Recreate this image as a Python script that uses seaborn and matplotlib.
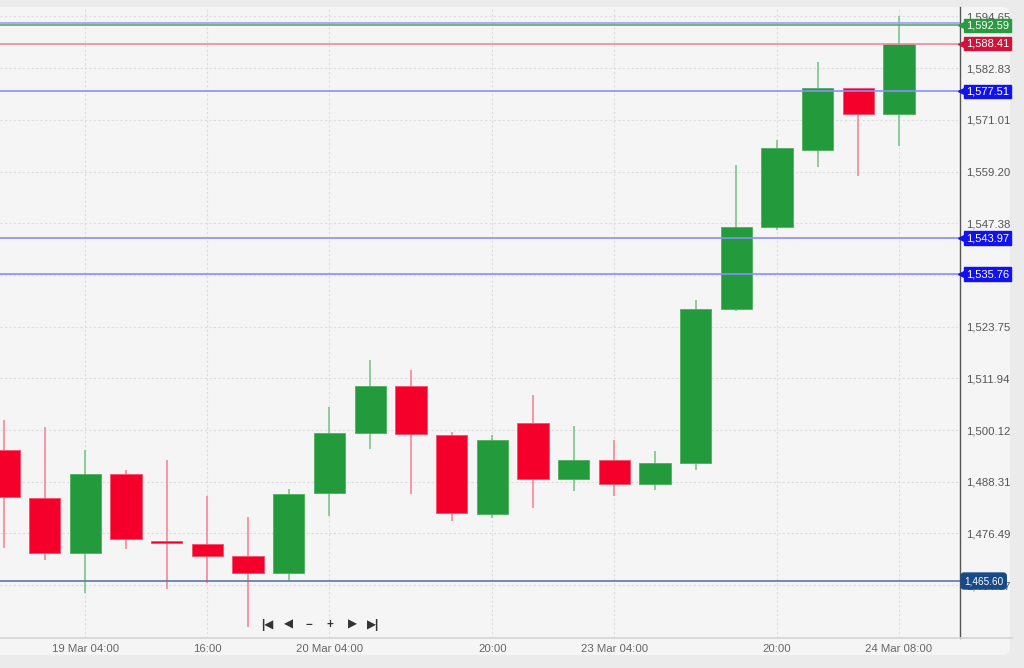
import matplotlib
matplotlib.use("Agg")
import matplotlib.pyplot as plt
import matplotlib.transforms as mtransforms
from matplotlib.patches import FancyBboxPatch
from matplotlib.lines import Line2D
import numpy as np
import pandas as pd
import seaborn as sns

# 4h candles, 18 Mar 20:00 .. 24 Mar 08:00
opens = [1495.55, 1484.58, 1472.01, 1490.06, 1474.75, 1474.06, 1471.32, 1467.43,
         1485.72, 1499.43, 1510.18, 1498.98, 1480.92, 1501.72, 1488.92, 1493.26,
         1487.78, 1492.58, 1527.78, 1546.52, 1564.12, 1578.29, 1572.35]
closes = [1484.81, 1472.01, 1490.06, 1475.21, 1474.29, 1471.32, 1467.43, 1485.49,
          1499.43, 1510.18, 1499.21, 1481.15, 1497.83, 1488.92, 1493.26, 1487.78,
          1492.58, 1527.78, 1546.52, 1564.57, 1578.29, 1572.35, 1588.41]
highs = [1502.41, 1500.81, 1495.55, 1490.98, 1493.26, 1485.03, 1480.23, 1486.63,
         1505.38, 1516.12, 1513.83, 1499.66, 1498.98, 1508.12, 1501.03, 1497.83,
         1495.32, 1529.83, 1560.69, 1566.40, 1584.23, 1578.29, 1594.75]
lows = [1473.15, 1470.41, 1462.86, 1472.92, 1463.78, 1465.15, 1455.09, 1465.61,
        1480.46, 1495.78, 1485.49, 1479.32, 1480.01, 1482.29, 1486.18, 1485.03,
        1486.41, 1490.98, 1527.32, 1545.83, 1560.23, 1558.18, 1565.03]

# x axis labels (candle index -> text)
xtick_idx = [2, 5, 8, 12, 15, 19, 22]
xtick_labels = ["19 Mar 04:00", "16:00", "20 Mar 04:00", "20:00",
                "23 Mar 04:00", "20:00", "24 Mar 08:00"]

# price scale ticks
ytick_vals = [1464.67, 1476.49, 1488.31, 1500.12, 1511.94, 1523.75, 1535.57,
              1547.38, 1559.20, 1571.01, 1582.83, 1594.65]

# horizontal levels
level_vals = [1593.15, 1592.59, 1588.41, 1577.51, 1543.97, 1535.76, 1465.60]
level_line_colors = ["#9a9aff", "#5aac6a", "#ec8b9c", "#8c8cff", "#8c8cff", "#8c8cff", "#5a7aaa"]
level_tag_colors = [None, "#2a9a40", "#d2123a", "#1212ee", "#1212ee", "#1212ee", "#174a87"]

df = pd.DataFrame({"open": opens, "close": closes, "high": highs, "low": lows})
df["idx"] = np.arange(len(df))
df["up"] = df["close"] >= df["open"]

sns.set_theme(style="white")
plt.rcParams["font.family"] = ["Liberation Sans", "DejaVu Sans"]

fig = plt.figure(figsize=(10.24, 6.68), dpi=100, facecolor="#ebebeb")

# rounded chart panel
panel = FancyBboxPatch((-10, 13), 1020, 648, boxstyle="round,pad=0,rounding_size=8",
                       fc="#f5f5f5", ec="none", transform=mtransforms.IdentityTransform(),
                       zorder=-10)
fig.patches.append(panel)

ax = fig.add_axes([0, 30 / 668, 960 / 1024, 631 / 668])
ax.set_facecolor("#f5f5f5")

green, red = "#239a3b", "#f5002a"
green_wick, red_wick = "#7cc68a", "#f5879a"

body_col = np.where(df["up"], green, red)
wick_col = np.where(df["up"], green_wick, red_wick)

ax.vlines(df["idx"], df["low"], df["high"], colors=wick_col, lw=1.2, zorder=2)
bottoms = df[["open", "close"]].min(axis=1)
heights = (df["close"] - df["open"]).abs().clip(lower=0.45)
ax.bar(df["idx"], heights, bottom=bottoms, width=0.77, color=body_col,
       edgecolor=np.where(df["up"], "#4fb060", "#f7506a"), lw=0.6, zorder=3)

# horizontal levels
for v, lc in zip(level_vals, level_line_colors):
    ax.axhline(v, color=lc, lw=1.2, zorder=4)

ax.set_xlim(-0.1, 23.5)
ax.set_ylim(1452.58, 1596.8)

ax.set_yticks(ytick_vals)
ax.set_yticklabels([f"{t:,.2f}" for t in ytick_vals])
ax.yaxis.tick_right()
ax.tick_params(axis="y", length=0, pad=4.5, labelsize=8.2, labelcolor="#555555")
ax.set_xticks(xtick_idx)
ax.set_xticklabels(xtick_labels)
ax.tick_params(axis="x", length=0, pad=4, labelsize=8.2, labelcolor="#666666")

ax.grid(True, color="#dddddd", linestyle=(0, (2, 2)), lw=0.8)
ax.set_axisbelow(True)
for s in ["top", "left", "bottom"]:
    ax.spines[s].set_visible(False)
ax.spines["right"].set_color("#555555")
ax.spines["right"].set_linewidth(1)

# bottom axis line extends to the panel edge
fig.lines.append(Line2D([0, 1012 / 1024], [30 / 668, 30 / 668], transform=fig.transFigure,
                        color="#d4d4d4", lw=1.2))

# price tags on the scale
ytr = ax.get_yaxis_transform()
for v, tc in zip(level_vals, level_tag_colors):
    if tc is None:
        continue
    if tc == "#174a87":
        ax.text(1.0 + 4 / 960, v, f"{v:,.2f}", transform=ytr, ha="left", va="center",
                fontsize=7.2, color="white", zorder=10, clip_on=False,
                bbox=dict(boxstyle="round,pad=0.3,rounding_size=0.3", fc=tc, ec=tc))
    else:
        ax.text(1.0 + 6 / 960, v, f"{v:,.2f}", transform=ytr, ha="left", va="center",
                fontsize=8, color="white", zorder=10, clip_on=False,
                bbox=dict(boxstyle="square,pad=0.15", fc=tc, ec=tc))
        ax.plot([1.0 + 3 / 960], [v], marker="<", ms=7, color=tc, mec=tc,
                transform=ytr, clip_on=False, zorder=9)

# navigation controls
nav = ["|◀", "◀", "−", "+", "▶", "▶|"]
nav_x = [267, 288, 309, 330, 352, 373]
for s, px in zip(nav, nav_x):
    ax.text(px / 960, 13 / 631, s, transform=ax.transAxes, ha="center", va="center",
            fontsize=8.5, color="#333333", fontweight="bold")

fig.savefig("out.png", dpi=100, facecolor=fig.get_facecolor())
